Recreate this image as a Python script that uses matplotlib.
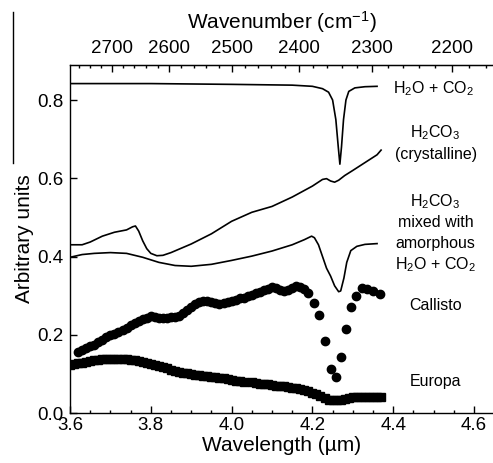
import numpy as np
import matplotlib
matplotlib.use("Agg")
import matplotlib.pyplot as plt
from matplotlib.ticker import MultipleLocator, FixedLocator
from matplotlib.lines import Line2D

plt.rcParams["font.family"] = ["Liberation Sans", "DejaVu Sans"]
plt.rcParams["mathtext.fontset"] = "custom"
plt.rcParams["mathtext.rm"] = "Liberation Sans"
plt.rcParams["mathtext.it"] = "Liberation Sans:italic"
plt.rcParams["mathtext.default"] = "regular"

# ---------------- laboratory spectra (wavelength in um) ----------------
h2o_co2_wl = [3.60, 3.80, 4.00, 4.15, 4.20, 4.225, 4.24, 4.25, 4.258, 4.264, 4.268,
              4.272, 4.277, 4.283, 4.29, 4.305, 4.33, 4.36]
h2o_co2_val = [0.842, 0.842, 0.840, 0.838, 0.835, 0.829, 0.820, 0.800, 0.750, 0.680, 0.636,
               0.680, 0.750, 0.800, 0.822, 0.831, 0.834, 0.835]

cryst_wl = [3.60, 3.63, 3.65, 3.68, 3.71, 3.74, 3.755, 3.762, 3.77, 3.78, 3.79, 3.80,
            3.815, 3.83, 3.85, 3.90, 3.95, 4.00, 4.05, 4.10, 4.15, 4.20, 4.225, 4.235,
            4.245, 4.255, 4.265, 4.28, 4.30, 4.33, 4.36, 4.37]
cryst_val = [0.430, 0.430, 0.437, 0.452, 0.462, 0.468, 0.476, 0.478, 0.465, 0.440, 0.420,
             0.408, 0.402, 0.403, 0.410, 0.432, 0.458, 0.490, 0.513, 0.528, 0.552, 0.580,
             0.597, 0.599, 0.593, 0.590, 0.595, 0.607, 0.620, 0.640, 0.660, 0.672]

mixed_wl = [3.60, 3.63, 3.66, 3.70, 3.74, 3.78, 3.82, 3.86, 3.90, 3.95, 4.00, 4.05, 4.10,
            4.15, 4.18, 4.198, 4.205, 4.215, 4.225, 4.235, 4.245, 4.255, 4.265, 4.27,
            4.278, 4.285, 4.295, 4.31, 4.33, 4.36]
mixed_val = [0.398, 0.405, 0.408, 0.410, 0.408, 0.398, 0.385, 0.377, 0.375, 0.380, 0.390,
             0.401, 0.414, 0.430, 0.443, 0.452, 0.448, 0.430, 0.400, 0.370, 0.350, 0.325,
             0.310, 0.312, 0.345, 0.385, 0.415, 0.426, 0.431, 0.433]

# ---------------- telescope spectra ----------------
callisto_wl = [3.62, 3.63, 3.64, 3.65, 3.66, 3.67, 3.68, 3.69, 3.70, 3.71, 3.72, 3.73,
               3.74, 3.75, 3.76, 3.77, 3.78, 3.79, 3.80, 3.81, 3.82, 3.83, 3.84, 3.85,
               3.86, 3.87, 3.88, 3.89, 3.90, 3.91, 3.92, 3.93, 3.94, 3.95, 3.96, 3.97,
               3.98, 3.99, 4.00, 4.01, 4.02, 4.03, 4.04, 4.05, 4.06, 4.07, 4.08, 4.09,
               4.10, 4.11, 4.12, 4.13, 4.14, 4.15, 4.16, 4.17, 4.18, 4.19,
               4.203, 4.217, 4.230, 4.245, 4.258, 4.270, 4.283, 4.296, 4.309, 4.322,
               4.335, 4.350, 4.368]
callisto_val = [0.156, 0.160, 0.165, 0.170, 0.175, 0.181, 0.187, 0.193, 0.199, 0.202,
                0.206, 0.212, 0.218, 0.225, 0.231, 0.236, 0.240, 0.244, 0.247, 0.246,
                0.244, 0.243, 0.244, 0.245, 0.246, 0.249, 0.256, 0.264, 0.272, 0.279,
                0.284, 0.286, 0.286, 0.283, 0.280, 0.279, 0.281, 0.284, 0.287, 0.290,
                0.293, 0.295, 0.298, 0.302, 0.306, 0.310, 0.314, 0.318, 0.322, 0.320,
                0.314, 0.311, 0.315, 0.320, 0.324, 0.322, 0.316, 0.308,
                0.282, 0.250, 0.185, 0.113, 0.092, 0.144, 0.215, 0.271, 0.300, 0.320,
                0.318, 0.311, 0.305]

europa_wl = [3.60, 3.61, 3.62, 3.63, 3.64, 3.65, 3.66, 3.67, 3.68, 3.69, 3.70, 3.71,
             3.72, 3.73, 3.74, 3.75, 3.76, 3.77, 3.78, 3.79, 3.80, 3.81, 3.82, 3.83,
             3.84, 3.85, 3.86, 3.87, 3.88, 3.89, 3.90, 3.91, 3.92, 3.93, 3.94, 3.95,
             3.96, 3.97, 3.98, 3.99, 4.00, 4.01, 4.02, 4.03,
             4.05, 4.06, 4.07, 4.08, 4.09, 4.10, 4.11, 4.12, 4.13, 4.14, 4.15, 4.16,
             4.17, 4.18, 4.19, 4.20, 4.21, 4.22, 4.23, 4.24, 4.25, 4.26, 4.27, 4.28,
             4.29, 4.30, 4.31, 4.32, 4.33, 4.34, 4.35, 4.36, 4.37]
europa_val = [0.122, 0.125, 0.127, 0.129, 0.131, 0.133, 0.135, 0.136, 0.137, 0.138,
              0.138, 0.138, 0.138, 0.138, 0.137, 0.136, 0.135, 0.133, 0.130, 0.127,
              0.124, 0.122, 0.119, 0.117, 0.114, 0.111, 0.108, 0.105, 0.103, 0.101,
              0.099, 0.097, 0.096, 0.095, 0.094, 0.093, 0.092, 0.090, 0.089, 0.087,
              0.085, 0.083, 0.081, 0.079,
              0.078, 0.077, 0.075, 0.074, 0.073, 0.071, 0.070, 0.069, 0.068, 0.066,
              0.065, 0.063, 0.061, 0.059, 0.056, 0.052, 0.048, 0.043, 0.038, 0.034,
              0.032, 0.032, 0.033, 0.036, 0.039, 0.040, 0.041, 0.041, 0.041, 0.040,
              0.040, 0.040, 0.040]

top_ticks = [2700, 2600, 2500, 2400, 2300, 2200]

fig = plt.figure(figsize=(4.93, 4.63), dpi=100)
ax = fig.add_axes([70 / 493, 50 / 463, 423 / 493, 348 / 463])

ax.plot(h2o_co2_wl, h2o_co2_val, color="black", lw=1.2)
ax.plot(cryst_wl, cryst_val, color="black", lw=1.2)
ax.plot(mixed_wl, mixed_val, color="black", lw=1.2)
ax.plot(callisto_wl, callisto_val, "o", color="black", ms=6, mec="black")
ax.plot(europa_wl, europa_val, "s", color="black", ms=5.8, mec="black")

ax.set_xlim(3.6, 4.647)
ax.set_ylim(0.0, 0.8895)
ax.xaxis.set_major_locator(MultipleLocator(0.2))
ax.xaxis.set_minor_locator(MultipleLocator(0.05))
ax.yaxis.set_major_locator(MultipleLocator(0.2))
ax.xaxis.set_major_formatter(plt.FormatStrFormatter("%.1f"))
ax.yaxis.set_major_formatter(plt.FormatStrFormatter("%.1f"))
ax.tick_params(axis="both", which="major", direction="in", length=5, width=1,
               labelsize=13.5)
ax.tick_params(axis="x", which="minor", direction="in", length=2.5, width=1)
ax.tick_params(axis="x", pad=3)
ax.tick_params(axis="y", pad=5)
ax.spines["right"].set_visible(False)
for s in ["left", "bottom", "top"]:
    ax.spines[s].set_linewidth(1.0)

ax.set_xlabel("Wavelength (µm)", fontsize=15, labelpad=1)
ax.set_ylabel("Arbitrary units", fontsize=15, labelpad=2)

# wavenumber scale on top
sec = ax.secondary_xaxis("top", functions=(lambda x: 1e4 / x, lambda x: 1e4 / x))
sec.xaxis.set_major_locator(FixedLocator(top_ticks))
sec.xaxis.set_minor_locator(FixedLocator(list(range(2160, 2800, 20))))
sec.tick_params(axis="x", which="major", direction="in", length=5, width=1,
                labelsize=13.5, pad=6)
sec.tick_params(axis="x", which="minor", direction="in", length=2.5, width=1)
sec.set_xlabel("Wavenumber (cm$^{-1}$)", fontsize=15, labelpad=8)

# curve labels
lab = dict(ha="center", va="center", fontsize=11.5)
ax.text(4.50, 0.830, "H$_2$O + CO$_2$", **lab)
ax.text(4.505, 0.716, "H$_2$CO$_3$", **lab)
ax.text(4.505, 0.662, "(crystalline)", **lab)
ax.text(4.505, 0.540, "H$_2$CO$_3$", **lab)
ax.text(4.505, 0.486, "mixed with", **lab)
ax.text(4.505, 0.434, "amorphous", **lab)
ax.text(4.505, 0.378, "H$_2$O + CO$_2$", **lab)
ax.text(4.505, 0.274, "Callisto", **lab)
ax.text(4.505, 0.080, "Europa", **lab)

# thin rule at the upper left margin
fig.add_artist(Line2D([13 / 493, 13 / 493], [1 - 12 / 463, 1 - 163 / 463],
                      transform=fig.transFigure, color="black", lw=1))

fig.savefig("out.png", dpi=100)
